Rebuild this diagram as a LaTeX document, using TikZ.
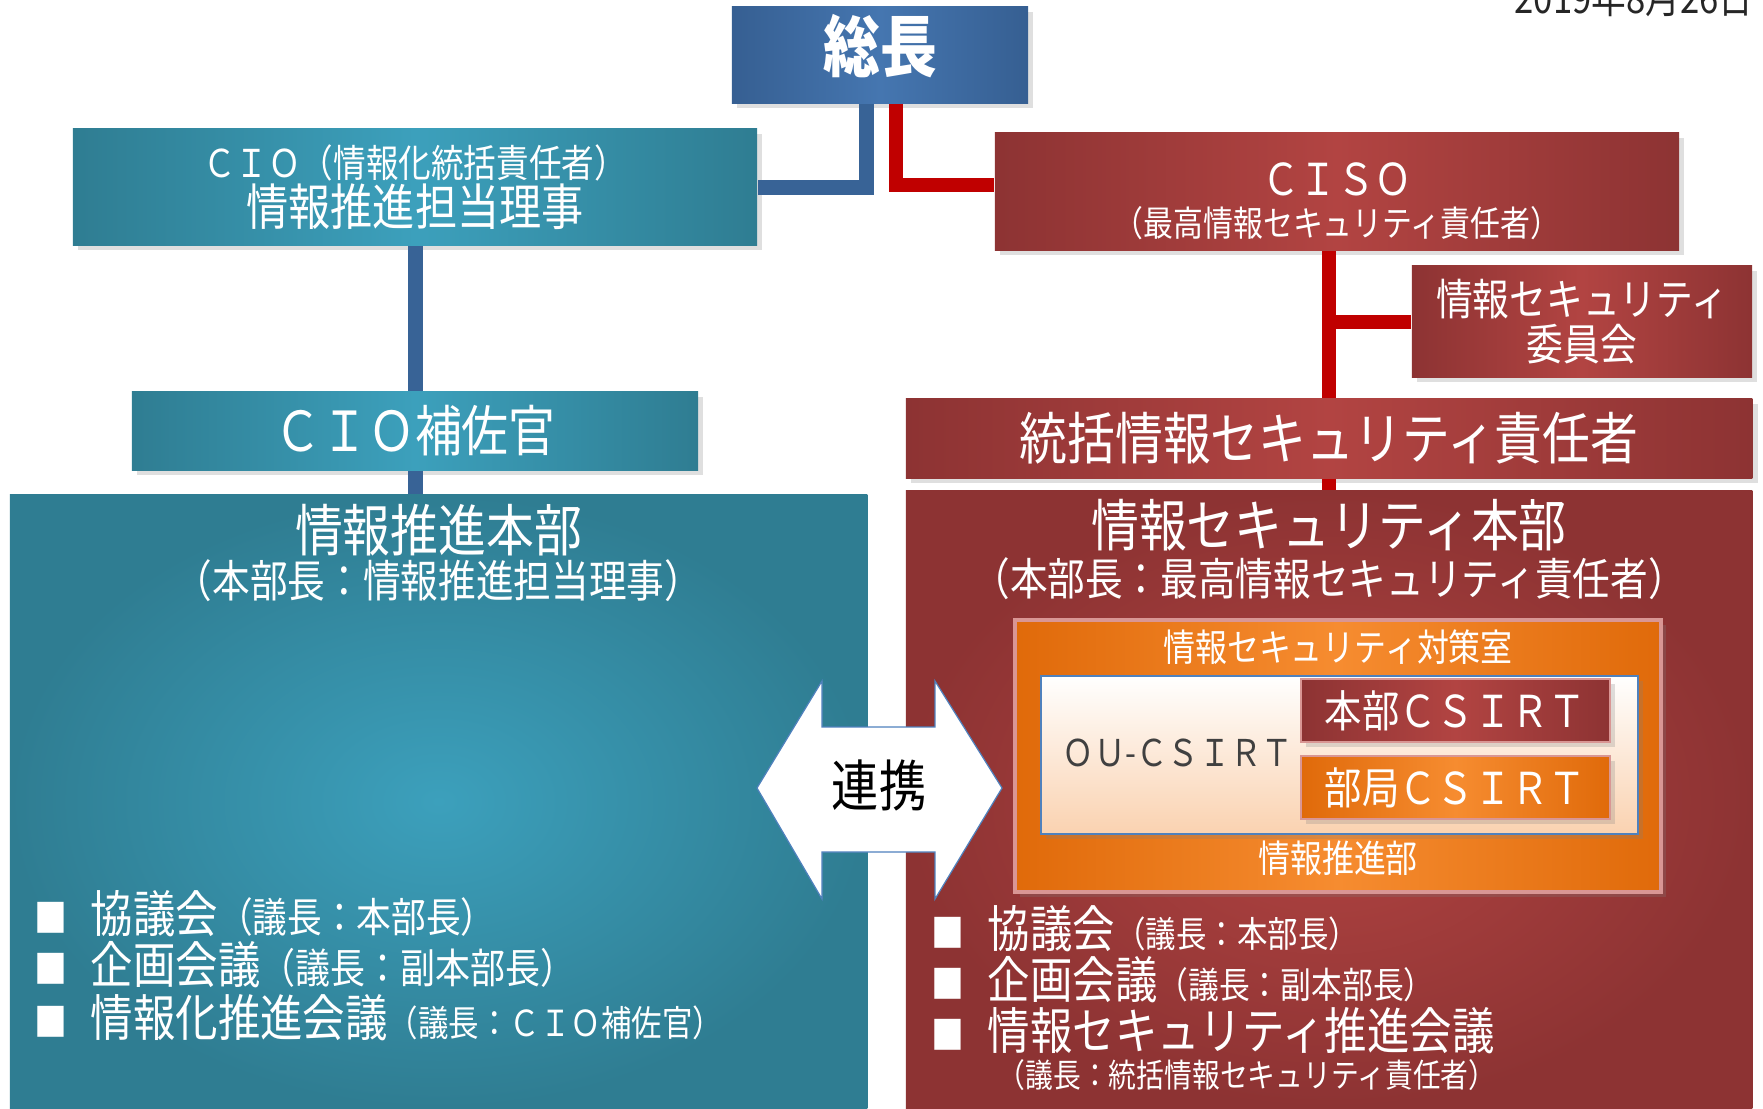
\documentclass[tikz,border=0pt]{standalone}
\usepackage{fontspec}
\setmainfont{Noto Sans CJK JP}[FakeStretch=0.85]
\usepackage{xcolor}
\usepackage{tikz}
\usetikzlibrary{calc, shadows}

\definecolor{tealedge}{HTML}{2F7D92}
\definecolor{tealmid}{HTML}{3CA0BC}
\definecolor{rededge}{HTML}{8D3333}
\definecolor{redmid}{HTML}{B24442}
\definecolor{blueedge}{HTML}{365F92}
\definecolor{bluemid}{HTML}{4576B0}
\definecolor{orangeedge}{HTML}{E06A0A}
\definecolor{orangemid}{HTML}{F68C30}
\definecolor{pinkline}{HTML}{D99694}
\definecolor{peach}{HTML}{FAD2B0}
\definecolor{linkblue}{HTML}{386396}
\definecolor{linkred}{HTML}{C00000}
\definecolor{frameblue}{HTML}{4F81BD}

\newcommand{\jpsize}[1]{\fontsize{#1}{#1}\selectfont}
\newcommand{\sqbullet}{\makebox[0.56cm][l]{\jpsize{11}■}}

\tikzset{
    boxbase/.style={rectangle, inner sep=0pt, text=white, align=center,
        drop shadow={shadow xshift=1.5pt, shadow yshift=-1.5pt, opacity=0.25}},
    tealbox/.style={boxbase, left color=tealedge, right color=tealedge, middle color=tealmid},
    redbox/.style={boxbase, left color=rededge, right color=rededge, middle color=redmid},
    chiefbox/.style={boxbase, left color=blueedge, right color=blueedge, middle color=bluemid},
    orangebox/.style={boxbase, left color=orangeedge, right color=orangeedge, middle color=orangemid},
    tealarea/.style={rectangle, inner sep=0pt, inner color=tealmid, outer color=tealedge},
    redarea/.style={rectangle, inner sep=0pt, inner color=redmid, outer color=rededge},
    bluelink/.style={draw=linkblue, line width=0.15cm},
    redlink/.style={draw=linkred, line width=0.14cm},
    heading/.style={text=white, inner sep=0pt},
    bulletline/.style={anchor=west, text=white, inner sep=0pt, font=\fontsize{14.2}{16}\selectfont}
}

\begin{document}
\begin{tikzpicture}[x=0.01cm, y=-0.01cm]

        \useasboundingbox (0,0) rectangle (1763,1108);

        %% Date
        \node (issuedate) [anchor=base east, inner sep=0pt, text=black!85, font=\jpsize{11.6}] at (1754,13) {2019年8月26日};

        %% Boxes at the top
        \node (president) [chiefbox, minimum width=2.96cm, minimum height=0.96cm, font=\bfseries\jpsize{19}] at (880,55) {\rule[-7pt]{0pt}{7pt}総長};
        \node (cio) [tealbox, minimum width=6.84cm, minimum height=1.16cm, font=\fontsize{14.1}{13.7}\selectfont] at (415,187) {{\fontsize{10.9}{13.7}\selectfont ＣＩＯ（情報化統括責任者）}\\情報推進担当理事};
        \node (ciso) [redbox, minimum width=6.84cm, minimum height=1.17cm, font=\fontsize{12.5}{11.8}\selectfont] at (1337,191.5) {\rule{0pt}{15pt}ＣＩＳＯ\\{\fontsize{10}{11.8}\selectfont（最高情報セキュリティ責任者）}};
        \node (seccomm) [redbox, minimum width=3.40cm, minimum height=1.11cm, font=\fontsize{12.3}{12.8}\selectfont] at (1582,321.5) {情報セキュリティ\\委員会};
        \node (cioaide) [tealbox, minimum width=5.66cm, minimum height=0.78cm, font=\jpsize{15.7}] at (415,431) {ＣＩＯ補佐官};
        \node (secmgr) [redbox, minimum width=8.46cm, minimum height=0.79cm, font=\jpsize{16}] at (1329,438.5) {統括情報セキュリティ責任者};

        %% Headquarters
        \node (infohq) [tealarea, minimum width=8.57cm, minimum height=6.13cm] at (438.5,801.5) {};
        \node (sechq) [redarea, minimum width=8.46cm, minimum height=6.17cm] at (1329,799.5) {};
        \node (infohqtitle) [heading, font=\jpsize{16}] at (438.5,530) {情報推進本部};
        \node (infohqhead) [heading, font=\jpsize{12.6}] at (438.5,581) {（本部長：情報推進担当理事）};
        \node (sechqtitle) [heading, font=\jpsize{16}] at (1329,525) {情報セキュリティ本部};
        \node (sechqhead) [heading, font=\jpsize{12.6}] at (1329,579) {（本部長：最高情報セキュリティ責任者）};

        %% Links
        \draw [bluelink] ($(president.south)+(-14,0)$) |- (cio.east);
        \draw [redlink] ($(president.south)+(16,0)$) |- ($(ciso.west)+(0,-7)$);
        \draw [redlink] (ciso.south -| secmgr.north) -- (secmgr.north);
        \draw [redlink] (secmgr.north |- seccomm.west) -- (seccomm.west);
        \draw [redlink] (secmgr.south) -- (secmgr.south |- sechq.north);
        \draw [bluelink] (cio.south) -- (cioaide.north);
        \draw [bluelink] (cioaide.south) -- (cioaide.south |- infohq.north);

        %% Security office
        \node (secoffice) [orangebox, draw=pinkline, line width=0.04cm, minimum width=6.46cm, minimum height=2.72cm] at (1338,756) {};
        \node (secofficetitle) [heading, font=\jpsize{10.7}] at (1338,647) {情報セキュリティ対策室};
        \node (promodept) [heading, font=\jpsize{10.7}] at (1338,858) {情報推進部};
        \node (oucsirt) [boxbase, draw=frameblue, line width=0.02cm, top color=white, bottom color=peach, minimum width=5.97cm, minimum height=1.58cm] at (1339.5,755) {};
        \node (oulabel) [inner sep=0pt, text=black!75, font=\jpsize{10.5}] at (1178,753) {ＯＵ-ＣＳＩＲＴ};
        \node (hqcsirt) [redbox, draw=pinkline, line width=0.02cm, minimum width=3.09cm, minimum height=0.63cm, font=\jpsize{12.5}] at (1455.5,710.5) {本部ＣＳＩＲＴ};
        \node (deptcsirt) [orangebox, draw=pinkline, line width=0.02cm, minimum width=3.09cm, minimum height=0.63cm, font=\jpsize{12.5}] at (1455.5,787.5) {部局ＣＳＩＲＴ};

        %% Cooperation arrow
        \filldraw [fill=white, draw=frameblue, line width=0.012cm, line join=miter]
            (757,788) -- (822,681) -- (822,727) -- (935,727) -- (935,681) -- (1002,788)
            -- (935,899) -- (935,852) -- (822,852) -- (822,899) -- cycle;
        \node (linkage) [inner sep=0pt, text=black, font=\jpsize{15.8}] at (879,785) {連携};

        %% Meetings
        \node (infoitema) [bulletline] at (34,914) {\sqbullet 協議会{\jpsize{11.6}（議長：本部長）}};
        \node (infoitemb) [bulletline] at (34,965) {\sqbullet 企画会議{\jpsize{11.7}（議長：副本部長）}};
        \node (infoitemc) [bulletline] at (34,1018) {\sqbullet 情報化推進会議{\jpsize{10.2}（議長：ＣＩＯ補佐官）}};
        \node (secitema) [bulletline] at (931,929) {\sqbullet 協議会{\jpsize{10.2}（議長：本部長）}};
        \node (secitemb) [bulletline] at (931,980) {\sqbullet 企画会議{\jpsize{10.3}（議長：副本部長）}};
        \node (secitemc) [bulletline] at (931,1031) {\sqbullet 情報セキュリティ推進会議};
        \node (secitemd) [bulletline, font=\jpsize{9.3}] at (997,1075) {（議長：統括情報セキュリティ責任者）};

\end{tikzpicture}
\end{document}
